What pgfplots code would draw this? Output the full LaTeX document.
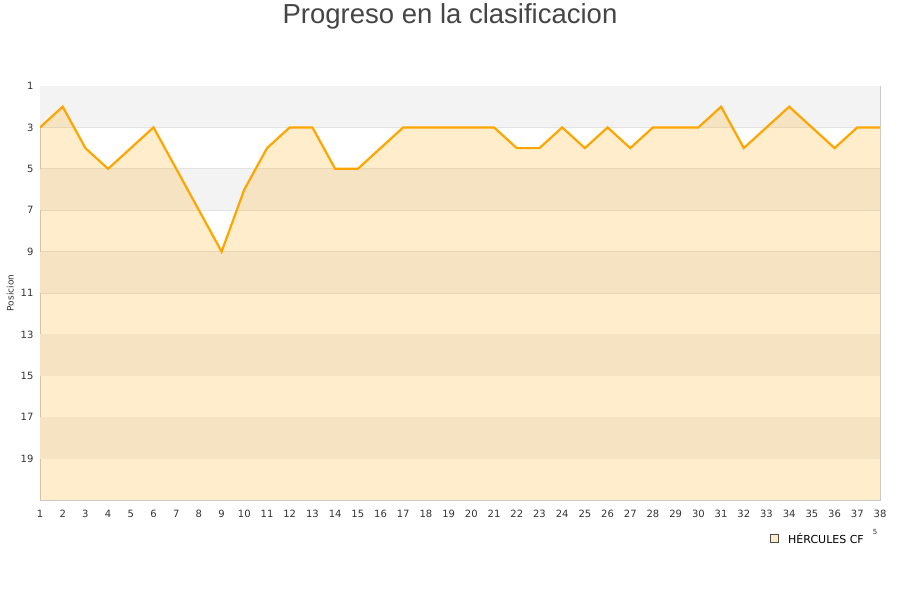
\documentclass[border=0pt]{standalone}
\usepackage{pgfplots}
\pgfplotsset{compat=1.18}
\usepackage{fontspec}
\setmainfont{DejaVu Sans}
\newfontfamily\titlefont{Liberation Sans}
\definecolor{lineor}{HTML}{FFA500}
\definecolor{bandgrey}{HTML}{F3F3F3}
\definecolor{gridc}{HTML}{E2E2E2}
\definecolor{txt}{HTML}{333333}
\definecolor{legfill}{HTML}{FEECC9}
\begin{document}
\begin{tikzpicture}[x=1pt,y=1pt]
\path[use as bounding box] (0,0) rectangle (900,600);
\node[font=\titlefont\fontsize{27.5}{32}\selectfont, text=black!73] at (450,584) {Progreso en la clasificacion};
\begin{axis}[
  at={(40pt,100pt)}, anchor=south west,
  scale only axis, width=840pt, height=414pt,
  xmin=1, xmax=38, ymin=1, ymax=21, y dir=reverse,
  xtick={1,...,38}, ytick={1,3,...,19},
  tick style={draw=none},
  ymajorgrids, grid style={gridc, line width=0.8pt},
  axis line style={draw=gridc!90!black, line width=0.8pt},
  tick label style={font=\fontsize{10}{12}\selectfont, text=txt},
  xticklabel style={yshift=-7pt},
  yticklabel style={xshift=-3pt},
  ylabel={Posicion}, ylabel style={font=\fontsize{9}{10}\selectfont, text=txt, at={(ticklabel cs:0.5)}, anchor=south, yshift=0pt},
  /pgf/number format/assume math mode=true,
  clip=true,
]
\addplot[fill=bandgrey, draw=none] coordinates {(1,1) (38,1) (38,3) (1,3)};
\addplot[fill=bandgrey, draw=none] coordinates {(1,5) (38,5) (38,7) (1,7)};
\addplot[fill=bandgrey, draw=none] coordinates {(1,9) (38,9) (38,11) (1,11)};
\addplot[fill=bandgrey, draw=none] coordinates {(1,13) (38,13) (38,15) (1,15)};
\addplot[fill=bandgrey, draw=none] coordinates {(1,17) (38,17) (38,19) (1,19)};
\addplot[fill=lineor, fill opacity=0.2, draw=none] coordinates {
(1,21) (1,3) (2,2) (3,4) (4,5) (5,4) (6,3) (7,5) (8,7) (9,9) (10,6)
(11,4) (12,3) (13,3) (14,5) (15,5) (16,4) (17,3) (18,3) (19,3) (20,3)
(21,3) (22,4) (23,4) (24,3) (25,4) (26,3) (27,4) (28,3) (29,3) (30,3)
(31,2) (32,4) (33,3) (34,2) (35,3) (36,4) (37,3) (38,3) (38,21)};
\addplot[lineor, line width=2.2pt, line join=miter, mark=none] coordinates {
(1,3) (2,2) (3,4) (4,5) (5,4) (6,3) (7,5) (8,7) (9,9) (10,6)
(11,4) (12,3) (13,3) (14,5) (15,5) (16,4) (17,3) (18,3) (19,3) (20,3)
(21,3) (22,4) (23,4) (24,3) (25,4) (26,3) (27,4) (28,3) (29,3) (30,3)
(31,2) (32,4) (33,3) (34,2) (35,3) (36,4) (37,3) (38,3)};
\end{axis}
\draw[black!70, fill=legfill, line width=0.5pt] (770,58) rectangle (778,66);
\node[anchor=west, font=\fontsize{11}{12}\selectfont, text=black, inner sep=0pt] at (788,62) {HÉRCULES CF};
\node[font=\fontsize{7}{8}\selectfont, text=txt, inner sep=0pt] at (875,68) {5};
\end{tikzpicture}
\end{document}
